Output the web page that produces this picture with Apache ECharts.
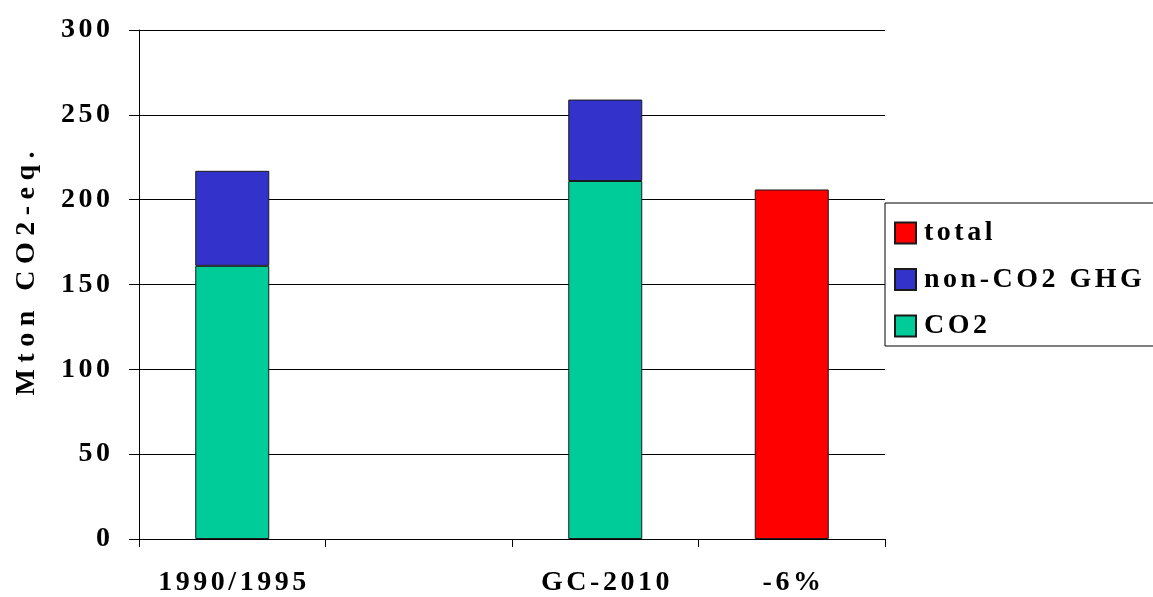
<!DOCTYPE html>
<html>
<head>
<meta charset="utf-8">
<title>Mton CO2-eq.</title>
<script src="https://cdn.jsdelivr.net/npm/echarts@6/dist/echarts.min.js"></script>
<style>
  html, body { margin: 0; padding: 0; background: #ffffff; }
  #chart { width: 1153px; height: 597px; }
</style>
</head>
<body>
<div id="chart"></div>
<script>
// Categories along the x axis (the second slot is left empty)
const categories = ['1990/1995', '', 'GC-2010', '-6%'];
// Emissions in Mton CO2-eq.
const co2Values = [161, null, 211, null];
const nonCo2Values = [56, null, 48, null];
const totalValues = [null, null, null, 206];
// Value axis range
const yMin = 0;
const yMax = 300;
const yStep = 50;
// Legend entries, top to bottom
const legendOrder = ['total', 'non-CO2 GHG', 'CO2'];
const yAxisTitle = 'Mton CO2-eq.';

const FONT = 'Times New Roman';
const FONT_SIZE = 28;
const glyph = { fontFamily: FONT, fontWeight: 'bold', fontSize: FONT_SIZE, color: '#000000' };

// Tracked lettering: every character but the last gets a little room after it
// (style "s" for normal text, "w" for the wider-spaced axis title).
const tracked = (str, key) => {
  const chars = Array.from(String(str));
  return chars.map((c, i) => '{' + (i < chars.length - 1 ? key : 'z') + '|' + c + '}').join('');
};
const richTracking = (lineHeight) => ({
  s: Object.assign({ padding: [0, 3.5, 0, 0], lineHeight: lineHeight }, glyph),
  w: Object.assign({ padding: [0, 6.5, 0, 0], lineHeight: lineHeight }, glyph),
  z: Object.assign({ lineHeight: lineHeight }, glyph)
});

const chart = echarts.init(document.getElementById('chart'), null, { renderer: 'canvas' });

const barStyle = (color) => ({ color: color, borderColor: '#1a1a1a', borderWidth: 1 });

chart.setOption({
  animation: false,
  backgroundColor: '#ffffff',
  grid: { left: 139, right: 268, top: 30, bottom: 55 },
  legend: {
    data: legendOrder,
    orient: 'vertical',
    left: 885,
    top: 203,
    padding: [16, 90, 6, 9],
    borderColor: '#000000',
    borderWidth: 1,
    backgroundColor: '#ffffff',
    icon: 'rect',
    itemWidth: 21,
    itemHeight: 21,
    itemGap: 18.5,
    formatter: (name) => tracked(name, 's'),
    textStyle: Object.assign({ lineHeight: 22, padding: [0, 0, 0, 3], rich: richTracking(22) }, glyph)
  },
  xAxis: {
    type: 'category',
    data: categories,
    boundaryGap: true,
    axisLine: { lineStyle: { color: '#000000', width: 1 } },
    axisTick: { show: true, interval: 0, length: 8, lineStyle: { color: '#000000' } },
    axisLabel: Object.assign({ interval: 0, margin: 30, formatter: (v) => tracked(v, 's'), rich: richTracking(28) }, glyph),
    splitLine: { show: false }
  },
  yAxis: {
    type: 'value',
    min: yMin,
    max: yMax,
    interval: yStep,
    name: tracked(yAxisTitle, 'w'),
    nameLocation: 'middle',
    nameGap: 98,
    nameTextStyle: Object.assign({ padding: [0, 0, 0, 22], rich: richTracking(28) }, glyph),
    axisLine: { show: true, lineStyle: { color: '#000000', width: 1 } },
    axisTick: { show: true, length: 10, lineStyle: { color: '#000000' } },
    axisLabel: Object.assign({ margin: 29, formatter: (v) => tracked(v, 's'), rich: richTracking(28) }, glyph),
    splitLine: { show: true, lineStyle: { color: '#000000', width: 1 } }
  },
  series: [
    { name: 'CO2', type: 'bar', stack: 'emissions', barWidth: 74, data: co2Values, itemStyle: barStyle('#00CC99') },
    { name: 'non-CO2 GHG', type: 'bar', stack: 'emissions', barWidth: 74, data: nonCo2Values, itemStyle: barStyle('#3333CC') },
    { name: 'total', type: 'bar', stack: 'emissions', barWidth: 74, data: totalValues, itemStyle: barStyle('#FF0000') }
  ]
});
</script>
</body>
</html>
